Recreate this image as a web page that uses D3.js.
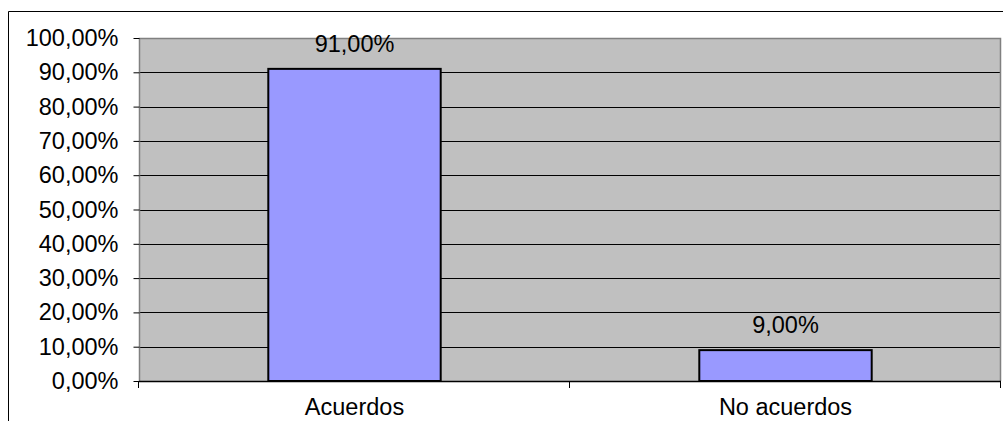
<!DOCTYPE html>
<html>
<head>
<meta charset="utf-8">
<script src="https://cdn.jsdelivr.net/npm/d3@7"></script>
<style>
  body { margin: 0; background: #fff; }
  svg { display: block; font-family: "Liberation Sans", Arial, sans-serif; }
</style>
</head>
<body>
<svg id="chart" width="1003" height="421"></svg>
<script>
/* data */
const categories = ["Acuerdos", "No acuerdos"];
const values = [0.91, 0.09];
const yTicks = [0, 0.1, 0.2, 0.3, 0.4, 0.5, 0.6, 0.7, 0.8, 0.9, 1.0];

/* layout */
const margin = { top: 38, right: 2, bottom: 40, left: 139 };
const width = 1003;
const height = 421;
const fontSize = 23.5;

const locale = d3.formatLocale({ decimal: ",", thousands: ".", grouping: [3], currency: ["", "€"] });
const pct = locale.format(".2%");

const svg = d3.select("#chart");

const xScale = d3.scaleBand()
    .domain(categories)
    .range([margin.left, width - margin.right])
    .paddingInner(0)
    .paddingOuter(0);

const yScale = d3.scaleLinear()
    .domain([0, 1])
    .range([height - margin.bottom, margin.top]);

// outer chart frame (clipped at right / bottom)
svg.append("path")
    .attr("d", "M8.5," + height + "V11.5H" + width)
    .attr("fill", "none")
    .attr("stroke", "#000")
    .attr("stroke-width", 1);

// plot background
svg.append("rect")
    .attr("x", margin.left)
    .attr("y", margin.top)
    .attr("width", width - margin.right - margin.left)
    .attr("height", yScale(0) - margin.top)
    .attr("fill", "#c0c0c0");

// gridlines
svg.append("g")
    .selectAll("line")
    .data(yTicks.filter(d => d > 0 && d < 1))
    .enter()
    .append("line")
    .attr("x1", margin.left)
    .attr("x2", width - margin.right)
    .attr("y1", d => Math.round(yScale(d)) + 0.5)
    .attr("y2", d => Math.round(yScale(d)) + 0.5)
    .attr("stroke", "#000");

// plot border (top, right gray)
svg.append("path")
    .attr("d", "M" + (margin.left + 0.5) + "," + yScale(0) + "V" + (margin.top + 0.5) +
        "H" + (width - margin.right - 0.5) + "V" + yScale(0))
    .attr("fill", "none")
    .attr("stroke", "#808080")
    .attr("stroke-width", 1.5);

// bars
const barW = xScale.bandwidth() * 0.4;
svg.append("g")
    .selectAll("rect")
    .data(values)
    .enter()
    .append("rect")
    .attr("x", (d, i) => xScale(categories[i]) + (xScale.bandwidth() - barW) / 2)
    .attr("y", d => yScale(d))
    .attr("width", barW)
    .attr("height", d => yScale(0) - yScale(d))
    .attr("fill", "#9999ff")
    .attr("stroke", "#000")
    .attr("stroke-width", 2);

// value labels
svg.append("g")
    .selectAll("text")
    .data(values)
    .enter()
    .append("text")
    .attr("x", (d, i) => xScale(categories[i]) + xScale.bandwidth() / 2)
    .attr("y", d => yScale(d) - 17)
    .attr("text-anchor", "middle")
    .attr("font-size", fontSize)
    .attr("fill", "#000")
    .text(d => pct(d));

/* axes */
const yAxis = d3.axisLeft(yScale)
    .tickValues(yTicks)
    .tickSize(6)
    .tickPadding(15)
    .tickFormat(d => pct(d));

const yG = svg.append("g")
    .attr("transform", "translate(" + (margin.left + 0.5) + ",0)")
    .call(yAxis);
yG.select(".domain").remove();
yG.selectAll(".tick line").attr("stroke", "#000");
yG.selectAll(".tick text")
    .attr("font-size", fontSize)
    .attr("font-family", "Liberation Sans, Arial, sans-serif")
    .attr("fill", "#000");

// x axis line and boundary ticks
const xG = svg.append("g");
xG.append("line")
    .attr("x1", margin.left)
    .attr("x2", width - margin.right)
    .attr("y1", yScale(0) + 0.5)
    .attr("y2", yScale(0) + 0.5)
    .attr("stroke", "#000")
    .attr("stroke-width", 1.5);

const bounds = categories.map(c => xScale(c)).concat([xScale.range()[1]]);
xG.selectAll("line.bt")
    .data(bounds)
    .enter()
    .append("line")
    .attr("class", "bt")
    .attr("x1", d => Math.round(d) - 0.5)
    .attr("x2", d => Math.round(d) - 0.5)
    .attr("y1", yScale(0))
    .attr("y2", yScale(0) + 7)
    .attr("stroke", "#000");

xG.selectAll("text")
    .data(categories)
    .enter()
    .append("text")
    .attr("x", d => xScale(d) + xScale.bandwidth() / 2)
    .attr("y", yScale(0) + 34)
    .attr("text-anchor", "middle")
    .attr("font-size", fontSize)
    .attr("fill", "#000")
    .text(d => d);
</script>
</body>
</html>
